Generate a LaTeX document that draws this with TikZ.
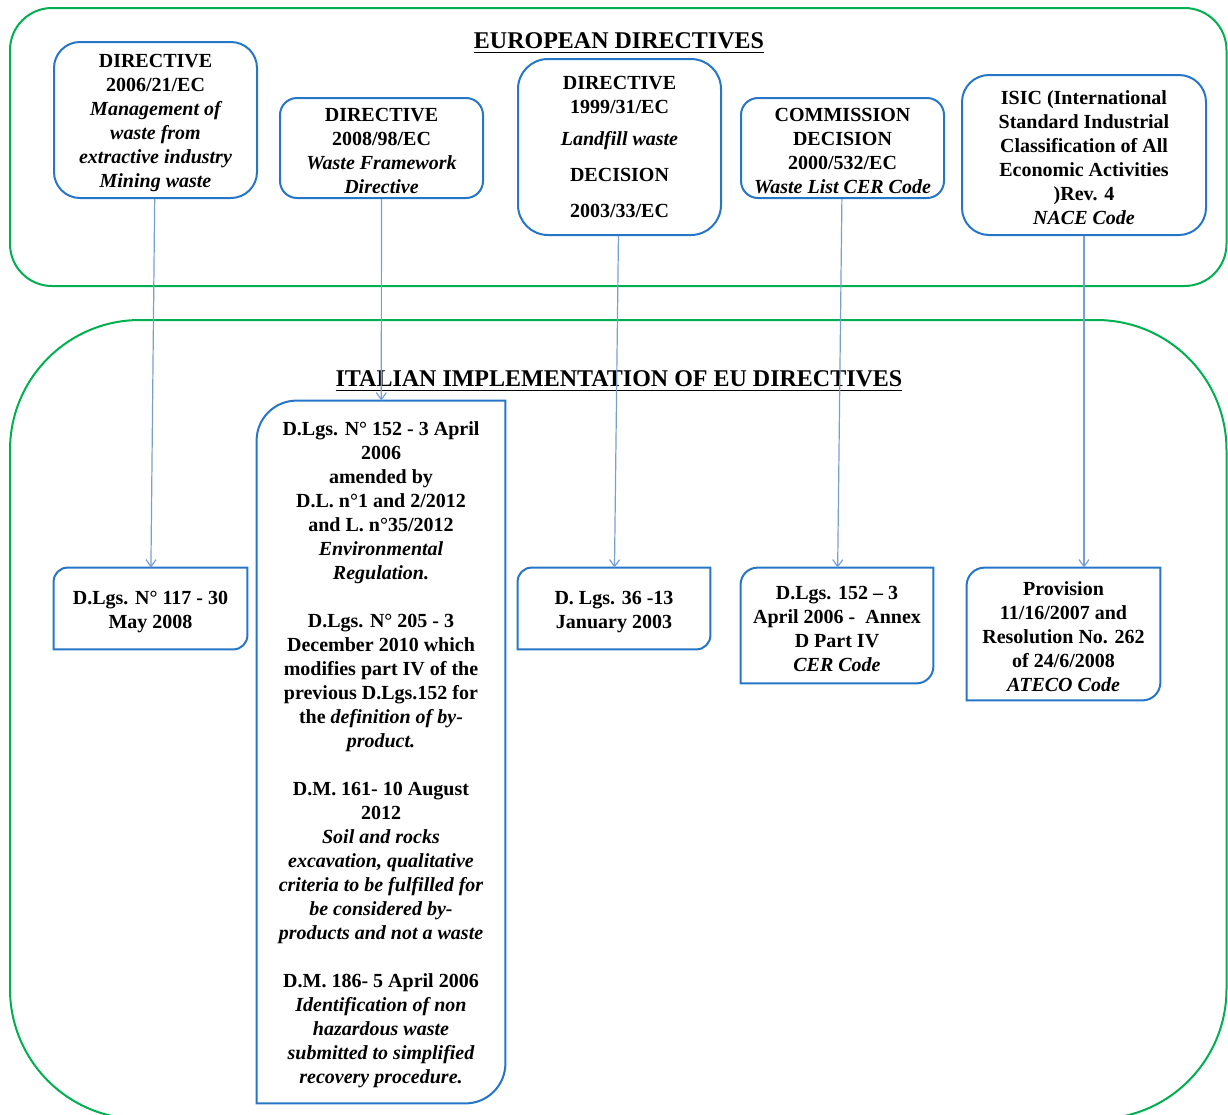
\documentclass[tikz,border=0pt]{standalone}
\usepackage{fontspec}
\setmainfont{Liberation Serif}
\usetikzlibrary{arrows.meta}

\definecolor{framegreen}{RGB}{0,176,80}
\definecolor{boxblue}{RGB}{38,118,200}
\definecolor{linkblue}{RGB}{120,158,214}

% outline with rounded top-left and bottom-right corners only
\newcommand\diagcorners[2]{%
  \draw[boxline] (#1.north east) -- ([xshift=#2]#1.north west)
    arc[start angle=90,end angle=180,radius=#2] -- (#1.south west)
    -- ([xshift=-#2]#1.south east)
    arc[start angle=270,end angle=360,radius=#2] -- cycle;}
% invisible strut that gives the first line of a box a little more headroom
\newcommand\toproom{\rule{0pt}{10pt}}

\begin{document}
\begin{tikzpicture}[x=0.5pt,y=0.5pt,
  frame/.style={draw=framegreen,line width=1pt},
  boxline/.style={draw=boxblue,line width=1pt},
  textfont/.style={font=\bfseries\fontsize{10}{12}\selectfont,align=center,inner sep=0pt},
  eubox/.style={textfont,boxline},
  itbox/.style={textfont},
  heading/.style={font=\bfseries\fontsize{12}{14}\selectfont,inner sep=0pt},
  link/.style={draw=linkblue,line width=0.6pt,-{Straight Barb[length=3.5pt,width=5pt]}}]

\clip (0,0) rectangle (1228,-1115);

% the two green frames
\draw[frame,rounded corners=21pt] (10,-8) rectangle (1226.5,-286);
\draw[frame,rounded corners=65pt] (10,-320) rectangle (1226.5,-1119);

\node[heading] (eutitle) at (619,-43) {\underline{EUROPEAN DIRECTIVES}};
\node[heading] (ittitle) at (619,-381) {\underline{ITALIAN IMPLEMENTATION OF EU DIRECTIVES}};

% European directives
\node[eubox,rounded corners=13pt,minimum width=101.5pt,minimum height=78pt] (A) at (155.5,-120)
  {\toproom DIRECTIVE\\2006/21/EC\\\itshape Management of\\\itshape waste from\\\itshape extractive industry\\\itshape Mining waste};
\node[eubox,rounded corners=8.5pt,minimum width=101.5pt,minimum height=50pt] (B) at (381.5,-148)
  {\toproom DIRECTIVE\\2008/98/EC\\\itshape Waste Framework\\\itshape Directive};
\node[eubox,rounded corners=15pt,minimum width=101.5pt,minimum height=88pt] (C) at (619.5,-147)
  {DIRECTIVE\\1999/31/EC\\[4pt]\itshape Landfill waste\\[6pt]DECISION\\[6pt]2003/33/EC};
\node[eubox,rounded corners=8.5pt,minimum width=101.5pt,minimum height=50pt] (D) at (842.5,-148)
  {\toproom COMMISSION\\DECISION\\2000/532/EC\\\itshape Waste List CER Code};
\node[eubox,rounded corners=13.5pt,minimum width=122pt,minimum height=80pt] (E) at (1084,-155)
  {\toproom ISIC (International\\Standard Industrial\\Classification of All\\Economic Activities\\)Rev. 4\\\itshape NACE Code};

% Italian implementation
\node[itbox,minimum width=96.5pt,minimum height=40.5pt] (F) at (150.5,-608.5)
  {\toproom D.Lgs. N° 117 - 30\\May 2008};
\diagcorners{F}{7pt}
\node[itbox,minimum width=124pt,minimum height=351pt] (G) at (381,-752)
  {\toproom D.Lgs. N° 152 - 3 April\\2006\\amended by\\D.L. n°1 and 2/2012\\and L. n°35/2012\\
   \itshape Environmental\\\itshape Regulation.\\[12pt]
   D.Lgs. N° 205 - 3\\December 2010 which\\modifies part IV of the\\previous D.Lgs.152 for\\
   the \textit{definition of by-}\\\itshape product.\\[12pt]
   D.M. 161- 10 August\\2012\\\itshape Soil and rocks\\\itshape excavation, qualitative\\
   \itshape criteria to be fulfilled for\\\itshape be considered by-\\\itshape products and not a waste\\[12pt]
   D.M. 186- 5 April 2006\\\itshape Identification of non\\\itshape hazardous waste\\
   \itshape submitted to simplified\\\itshape recovery procedure.};
\diagcorners{G}{20pt}
\node[itbox,minimum width=96pt,minimum height=40.5pt] (H) at (614,-608.5)
  {\toproom D. Lgs. 36 -13\\January 2003};
\diagcorners{H}{7pt}
\node[itbox,minimum width=96pt,minimum height=57.5pt] (I) at (837,-625.5)
  {\toproom D.Lgs. 152 – 3\\April 2006 -\ \ Annex\\D Part IV\\\itshape CER Code};
\diagcorners{I}{8.5pt}
\node[itbox,minimum width=96.5pt,minimum height=66pt] (J) at (1063.5,-634)
  {\toproom Provision\\11/16/2007 and\\Resolution No. 262\\of 24/6/2008\\\itshape ATECO Code};
\diagcorners{J}{9pt}

% links from each directive to its Italian counterpart
\draw[link] (A) -- (F);
\draw[link] (B) -- (G);
\draw[link] (C) -- (H);
\draw[link] (D) -- (I);
\draw[link] (E.south) -- (E.south |- J.north);
\end{tikzpicture}
\end{document}
